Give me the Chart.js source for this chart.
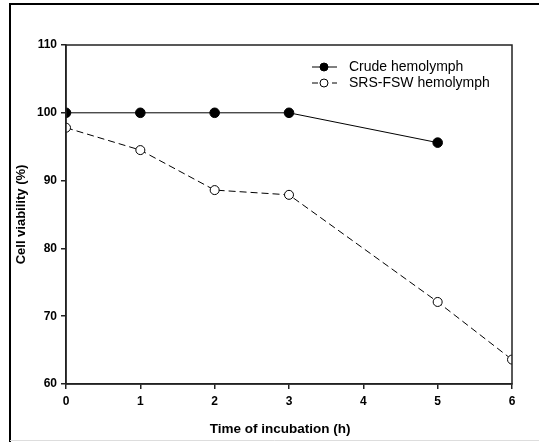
<!DOCTYPE html>
<html>
<head>
<meta charset="utf-8">
<script src="https://cdn.jsdelivr.net/npm/chart.js@4.4.1/dist/chart.umd.min.js"></script>
<style>
  html, body { margin: 0; padding: 0; background: #fff; }
  #wrap { position: relative; width: 539px; height: 442px; }
</style>
</head>
<body>
<div id="wrap"><canvas id="myChart" width="539" height="442"></canvas></div>
<script>
const hours = [0, 1, 2, 3, 4, 5, 6];
const crudeX = [0, 1, 2, 3, 5];
const crudeY = [100, 100, 100, 100, 95.6];
const srsX = [0, 1, 2, 3, 5, 6];
const srsY = [97.8, 94.5, 88.6, 87.9, 72.1, 63.6];
const yTicks = [60, 70, 80, 90, 100, 110];

const toPoints = (xs, ys) => xs.map((x, i) => ({ x: x, y: ys[i] }));

const FONT = '"Liberation Sans", Arial, sans-serif';

// outer frame, plot box, x title and legend
const decor = {
  id: 'decor',
  beforeDraw(chart) {
    const c = chart.ctx;
    c.save();
    c.fillStyle = '#fff';
    c.fillRect(0, 0, chart.width, chart.height);
    c.strokeStyle = '#000';
    c.lineWidth = 2;
    c.beginPath();
    c.moveTo(10, 442);
    c.lineTo(10, 4);
    c.lineTo(539, 4);
    c.stroke();
    c.strokeStyle = '#ddd';
    c.lineWidth = 1;
    c.beginPath();
    c.moveTo(10, 440.5);
    c.lineTo(539, 440.5);
    c.stroke();
    c.restore();
  },
  afterDatasetsDraw(chart) {
    const a = chart.chartArea;
    const c = chart.ctx;
    c.save();
    c.strokeStyle = '#222';
    c.lineWidth = 1.5;
    c.strokeRect(a.left, a.top, a.right - a.left, a.bottom - a.top);

    c.fillStyle = '#000';
    c.font = 'bold 13.5px ' + FONT;
    c.textAlign = 'center';
    c.textBaseline = 'middle';
    c.fillText('Time of incubation (h)', 280, 429);

    // legend
    const rows = [
      { y: 67, dash: [], fill: '#000', label: 'Crude hemolymph' },
      { y: 83, dash: [6, 4], fill: '#fff', label: 'SRS-FSW hemolymph' }
    ];
    c.textAlign = 'left';
    rows.forEach(r => {
      c.strokeStyle = '#000';
      c.lineWidth = 1;
      c.setLineDash(r.dash);
      c.beginPath();
      c.moveTo(312, r.y);
      c.lineTo(337, r.y);
      c.stroke();
      c.setLineDash([]);
      c.beginPath();
      c.arc(324, r.y, 4, 0, Math.PI * 2);
      c.fillStyle = r.fill;
      c.fill();
      c.stroke();
      c.fillStyle = '#000';
      c.font = '14px ' + FONT;
      c.fillText(r.label, 349, r.y);
    });
    c.restore();
  }
};

new Chart(document.getElementById('myChart'), {
  type: 'line',
  data: {
    datasets: [
      {
        label: 'Crude hemolymph',
        data: toPoints(crudeX, crudeY),
        borderColor: '#000',
        borderWidth: 1,
        backgroundColor: '#000',
        pointBackgroundColor: '#000',
        pointBorderColor: '#000',
        pointRadius: 4.8,
        tension: 0
      },
      {
        label: 'SRS-FSW hemolymph',
        data: toPoints(srsX, srsY),
        borderColor: '#000',
        borderWidth: 1,
        borderDash: [7, 4],
        pointBackgroundColor: '#fff',
        pointBorderColor: '#000',
        pointBorderWidth: 1,
        pointRadius: 4.5,
        tension: 0
      }
    ]
  },
  plugins: [decor],
  options: {
    responsive: false,
    animation: false,
    events: [],
    layout: { padding: { left: 14, top: 45, right: 27, bottom: 0 } },
    plugins: {
      legend: { display: false },
      tooltip: { enabled: false }
    },
    scales: {
      x: {
        type: 'linear',
        min: 0,
        max: 6,
        afterBuildTicks: s => { s.ticks = hours.map(v => ({ value: v })); },
        afterFit: s => { s.height = 58; },
        grid: { drawOnChartArea: false, tickLength: 5, color: '#222', lineWidth: 1.5 },
        border: { color: '#222', width: 1.5 },
        ticks: { color: '#000', font: { family: FONT, size: 12, weight: 'bold' }, padding: 5 }
      },
      y: {
        min: 60,
        max: 110,
        afterBuildTicks: s => { s.ticks = yTicks.map(v => ({ value: v })); },
        afterFit: s => { s.width = 52; },
        grid: { drawOnChartArea: false, tickLength: 5, color: '#222', lineWidth: 1.5 },
        border: { color: '#222', width: 1.5 },
        ticks: { color: '#000', font: { family: FONT, size: 12, weight: 'bold' }, padding: 4 },
        title: {
          display: true,
          text: 'Cell viability (%)',
          color: '#000',
          font: { family: FONT, size: 13, weight: 'bold' },
          padding: 0
        }
      }
    }
  }
});
</script>
</body>
</html>
